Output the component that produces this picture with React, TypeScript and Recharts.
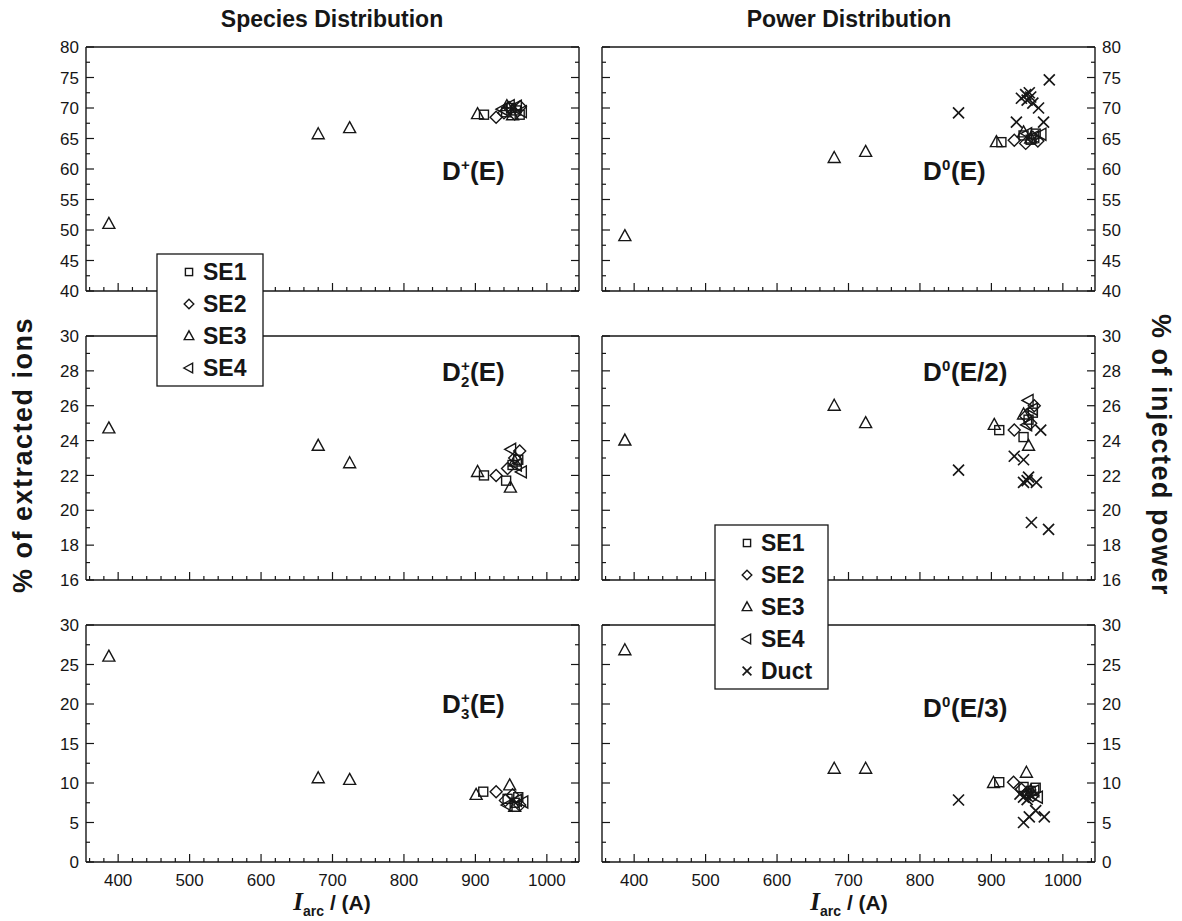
import React from "react";
import { ScatterChart, Scatter, XAxis, YAxis } from "recharts";

// ---- axis ticks ----
const arcDomain = [355, 1045];
const arcTicks = [360, 380, 400, 420, 440, 460, 480, 500, 520, 540, 560, 580, 600, 620, 640, 660, 680, 700, 720, 740, 760, 780, 800, 820, 840, 860, 880, 900, 920, 940, 960, 980, 1000, 1020, 1040];
const arcLabels = [400, 500, 600, 700, 800, 900, 1000];

const topTicks = [40, 42.5, 45, 47.5, 50, 52.5, 55, 57.5, 60, 62.5, 65, 67.5, 70, 72.5, 75, 77.5, 80];
const topLabels = [40, 45, 50, 55, 60, 65, 70, 75, 80];
const midTicks = [16, 17, 18, 19, 20, 21, 22, 23, 24, 25, 26, 27, 28, 29, 30];
const midLabels = [16, 18, 20, 22, 24, 26, 28, 30];
const lowTicks = [0, 2.5, 5, 7.5, 10, 12.5, 15, 17.5, 20, 22.5, 25, 27.5, 30];
const lowLabels = [0, 5, 10, 15, 20, 25, 30];

// ---- species distribution (% of extracted ions) ----
// D+(E)
const dPlusSE1 = [[912, 68.9], [943, 69.3], [950, 70.0], [957, 69.6], [962, 68.9]];
const dPlusSE2 = [[929, 68.5], [940, 69.2], [947, 70.1], [955, 69.0], [963, 70.2]];
const dPlusSE3 = [[387, 51.0], [680, 65.7], [724, 66.7], [903, 69.0], [944, 70.3], [952, 68.8]];
const dPlusSE4 = [[938, 69.8], [948, 70.4], [958, 70.3], [965, 69.4]];
// D2+(E)
const d2SE1 = [[912, 22.0], [943, 21.7], [952, 22.6], [960, 22.9]];
const d2SE2 = [[929, 22.0], [945, 22.4], [955, 23.0], [962, 23.4]];
const d2SE3 = [[387, 24.7], [680, 23.7], [724, 22.7], [903, 22.2], [949, 21.3], [955, 22.8]];
const d2SE4 = [[950, 23.5], [958, 22.6], [965, 22.2]];
// D3+(E)
const d3SE1 = [[911, 8.9], [945, 8.0], [955, 7.5], [960, 8.2]];
const d3SE2 = [[929, 8.9], [942, 7.8], [952, 8.5], [962, 7.2]];
const d3SE3 = [[387, 26.0], [680, 10.6], [724, 10.4], [901, 8.5], [948, 9.7], [955, 7.0]];
const d3SE4 = [[945, 7.2], [958, 7.8], [967, 7.6]];

// ---- power distribution (% of injected power) ----
// D0(E)
const pESE1 = [[914, 64.4], [945, 65.5], [955, 64.8], [962, 65.8]];
const pESE2 = [[932, 64.7], [948, 64.2], [958, 65.2], [965, 64.6]];
const pESE3 = [[387, 49.0], [680, 61.8], [724, 62.8], [907, 64.4], [945, 66.0], [955, 65.0]];
const pESE4 = [[950, 65.8], [960, 65.3], [970, 65.7]];
const pEDuct = [[854, 69.2], [981, 74.6], [942, 71.6], [953, 72.5], [950, 71.3], [958, 70.8], [966, 70.0], [935, 67.7], [973, 67.7], [948, 72.2], [955, 71.8]];
// D0(E/2)
const pE2SE1 = [[911, 24.6], [945, 24.2], [952, 25.2], [958, 25.6]];
const pE2SE2 = [[932, 24.6], [948, 25.4], [960, 26.0], [955, 25.0]];
const pE2SE3 = [[387, 24.0], [680, 26.0], [724, 25.0], [904, 24.9], [952, 23.7], [945, 25.5]];
const pE2SE4 = [[952, 26.3], [958, 25.8], [950, 24.9]];
const pE2Duct = [[854, 22.3], [932, 23.1], [945, 22.9], [952, 21.9], [945, 21.6], [963, 21.6], [950, 21.7], [969, 24.6], [956, 19.3], [980, 18.9]];
// D0(E/3)
const pE3SE1 = [[911, 10.1], [945, 9.5], [955, 9.0], [962, 9.4]];
const pE3SE2 = [[931, 10.1], [942, 9.2], [950, 8.8], [958, 8.4]];
const pE3SE3 = [[387, 26.8], [680, 11.8], [724, 11.8], [903, 10.0], [949, 11.3], [955, 9.0]];
const pE3SE4 = [[948, 8.6], [960, 9.0], [965, 8.2]];
const pE3Duct = [[854, 7.85], [945, 8.2], [950, 7.9], [955, 8.5], [940, 8.6], [953, 5.7], [974, 5.7], [945, 5.0], [962, 6.5]];

const INK = "#161616";
const SANS = "'Liberation Sans', Arial, Helvetica, sans-serif";

type Kind = "sq" | "dia" | "tri" | "left" | "x";

function Marker({ kind, cx, cy, s = 1 }: { kind: Kind; cx: number; cy: number; s?: number }) {
  const st = { fill: "none", stroke: INK, strokeWidth: 1.4 };
  if (kind === "sq") return <rect x={cx - 4.5 * s} y={cy - 4.5 * s} width={9 * s} height={9 * s} {...st} />;
  if (kind === "dia")
    return <polygon points={`${cx},${cy - 6 * s} ${cx + 6 * s},${cy} ${cx},${cy + 6 * s} ${cx - 6 * s},${cy}`} {...st} />;
  if (kind === "tri")
    return <polygon points={`${cx},${cy - 6.5 * s} ${cx + 6 * s},${cy + 4.5 * s} ${cx - 6 * s},${cy + 4.5 * s}`} {...st} />;
  if (kind === "left")
    return <polygon points={`${cx - 6.5 * s},${cy} ${cx + 4.5 * s},${cy - 6 * s} ${cx + 4.5 * s},${cy + 6 * s}`} {...st} />;
  const d = 5.5 * s;
  return (
    <g stroke={INK} strokeWidth={1.7}>
      <line x1={cx - d} y1={cy - d} x2={cx + d} y2={cy + d} />
      <line x1={cx - d} y1={cy + d} x2={cx + d} y2={cy - d} />
    </g>
  );
}

const toPts = (rows: number[][]) => rows.map(([x, y]) => ({ x, y }));

const xTick = (withLabels: boolean, dir: number) => (p: any) => {
  const v = p.payload.value;
  const major = arcLabels.includes(v);
  return (
    <g>
      <line x1={p.x} x2={p.x} y1={p.y} y2={p.y + dir * (major ? 8 : 4)} stroke={INK} strokeWidth={1.2} />
      {withLabels && major && (
        <text x={p.x} y={p.y + 24} textAnchor="middle" fontFamily={SANS} fontSize={17} fill={INK}>
          {v}
        </text>
      )}
    </g>
  );
};

const yTick = (labels: number[], withLabels: boolean, side: "left" | "right") => (p: any) => {
  const v = p.payload.value;
  const major = labels.includes(v);
  const dir = side === "left" ? 1 : -1;
  return (
    <g>
      <line x1={p.x} x2={p.x + dir * (major ? 8 : 4)} y1={p.y} y2={p.y} stroke={INK} strokeWidth={1.2} />
      {withLabels && major && (
        <text
          x={p.x - dir * 7}
          y={p.y}
          dy="0.36em"
          textAnchor={side === "left" ? "end" : "start"}
          fontFamily={SANS}
          fontSize={17}
          fill={INK}
        >
          {v}
        </text>
      )}
    </g>
  );
};

type Series = { kind: Kind; rows: number[][] };

function Panel(props: {
  left: number;
  top: number;
  w: number;
  h: number;
  yDomain: number[];
  yTicks: number[];
  yLabels: number[];
  labelSide: "left" | "right";
  showX: boolean;
  series: Series[];
}) {
  const { left, top, w, h, yDomain, yTicks, yLabels, labelSide, showX, series } = props;
  const M = 40;
  const line = { stroke: INK, strokeWidth: 1.4 };
  // every axis takes 1px, so margins are M - 1 to keep the plot box at (left, top, w, h)
  return (
    <div style={{ position: "absolute", left: left - M, top: top - M }}>
      <ScatterChart width={w + 2 * M} height={h + 2 * M} margin={{ top: M - 1, right: M - 1, bottom: M - 1, left: M - 1 }}>
        <XAxis
          xAxisId="b"
          type="number"
          dataKey="x"
          domain={arcDomain}
          ticks={arcTicks}
          interval={0}
          height={1}
          tickSize={0}
          tickMargin={0}
          tickLine={false}
          axisLine={line}
          tick={xTick(showX, -1)}
          allowDataOverflow
        />
        <XAxis
          xAxisId="t"
          orientation="top"
          type="number"
          domain={arcDomain}
          ticks={arcTicks}
          interval={0}
          height={1}
          tickSize={0}
          tickMargin={0}
          tickLine={false}
          axisLine={line}
          tick={xTick(false, 1)}
          allowDataOverflow
        />
        <YAxis
          yAxisId="l"
          type="number"
          dataKey="y"
          domain={yDomain}
          ticks={yTicks}
          interval={0}
          width={1}
          tickSize={0}
          tickMargin={0}
          tickLine={false}
          axisLine={line}
          tick={yTick(yLabels, labelSide === "left", "left")}
          allowDataOverflow
        />
        <YAxis
          yAxisId="r"
          orientation="right"
          type="number"
          domain={yDomain}
          ticks={yTicks}
          interval={0}
          width={1}
          tickSize={0}
          tickMargin={0}
          tickLine={false}
          axisLine={line}
          tick={yTick(yLabels, labelSide === "right", "right")}
          allowDataOverflow
        />
        {series.map((s, i) => (
          <Scatter
            key={i}
            xAxisId="b"
            yAxisId="l"
            data={toPts(s.rows)}
            isAnimationActive={false}
            shape={(p: any) => <Marker kind={s.kind} cx={p.cx} cy={p.cy} />}
          />
        ))}
      </ScatterChart>
    </div>
  );
}

function PanelLabel({ x, y, sup, sub, arg }: { x: number; y: number; sup: string; sub?: string; arg: string }) {
  return (
    <g fontFamily={SANS} fontWeight="bold" fill={INK}>
      <text x={x} y={y} fontSize={26}>D</text>
      <text x={x + 19} y={y - 10} fontSize={15}>{sup}</text>
      {sub && <text x={x + 19} y={y + 6} fontSize={15}>{sub}</text>}
      <text x={x + 28} y={y} fontSize={26}>{arg}</text>
    </g>
  );
}

function Legend({ x, y, w, h, rows }: { x: number; y: number; w: number; h: number; rows: { kind: Kind; name: string }[] }) {
  return (
    <g>
      <rect x={x} y={y} width={w} height={h} fill="#fff" stroke={INK} strokeWidth={1.3} />
      {rows.map((r, i) => (
        <g key={r.name}>
          <Marker kind={r.kind} cx={x + 32} cy={y + 18 + i * 32} s={0.8} />
          <text x={x + 46} y={y + 26 + i * 32} fontFamily={SANS} fontWeight="bold" fontSize={23} fill={INK}>
            {r.name}
          </text>
        </g>
      ))}
    </g>
  );
}

const seRows: { kind: Kind; name: string }[] = [
  { kind: "sq", name: "SE1" },
  { kind: "dia", name: "SE2" },
  { kind: "tri", name: "SE3" },
  { kind: "left", name: "SE4" },
];

function XTitle({ cx }: { cx: number }) {
  return (
    <text x={cx} y={910} textAnchor="middle" fill={INK} fontWeight="bold">
      <tspan fontFamily="'Liberation Serif', 'Times New Roman', serif" fontStyle="italic" fontSize={25}>I</tspan>
      <tspan fontFamily={SANS} fontSize={14} dy={6}>arc</tspan>
      <tspan fontFamily={SANS} fontSize={21} dy={-6}> / (A)</tspan>
    </text>
  );
}

export default function App() {
  const L = 86;
  const R = 602;
  const W = 493;
  const rows = [47, 336, 625];
  const H = [244, 244, 237];
  const yTitle = { fontFamily: SANS, fontWeight: "bold" as const, fontSize: 27, letterSpacing: 1.5, fill: INK };
  return (
    <div style={{ position: "absolute", left: 0, top: 0, width: 1182, height: 921, background: "#fff", overflow: "hidden" }}>
      <Panel left={L} top={rows[0]} w={W} h={H[0]} yDomain={[40, 80]} yTicks={topTicks} yLabels={topLabels} labelSide="left" showX={false}
        series={[{ kind: "sq", rows: dPlusSE1 }, { kind: "dia", rows: dPlusSE2 }, { kind: "tri", rows: dPlusSE3 }, { kind: "left", rows: dPlusSE4 }]} />
      <Panel left={L} top={rows[1]} w={W} h={H[1]} yDomain={[16, 30]} yTicks={midTicks} yLabels={midLabels} labelSide="left" showX={false}
        series={[{ kind: "sq", rows: d2SE1 }, { kind: "dia", rows: d2SE2 }, { kind: "tri", rows: d2SE3 }, { kind: "left", rows: d2SE4 }]} />
      <Panel left={L} top={rows[2]} w={W} h={H[2]} yDomain={[0, 30]} yTicks={lowTicks} yLabels={lowLabels} labelSide="left" showX={true}
        series={[{ kind: "sq", rows: d3SE1 }, { kind: "dia", rows: d3SE2 }, { kind: "tri", rows: d3SE3 }, { kind: "left", rows: d3SE4 }]} />
      <Panel left={R} top={rows[0]} w={W} h={H[0]} yDomain={[40, 80]} yTicks={topTicks} yLabels={topLabels} labelSide="right" showX={false}
        series={[{ kind: "sq", rows: pESE1 }, { kind: "dia", rows: pESE2 }, { kind: "tri", rows: pESE3 }, { kind: "left", rows: pESE4 }, { kind: "x", rows: pEDuct }]} />
      <Panel left={R} top={rows[1]} w={W} h={H[1]} yDomain={[16, 30]} yTicks={midTicks} yLabels={midLabels} labelSide="right" showX={false}
        series={[{ kind: "sq", rows: pE2SE1 }, { kind: "dia", rows: pE2SE2 }, { kind: "tri", rows: pE2SE3 }, { kind: "left", rows: pE2SE4 }, { kind: "x", rows: pE2Duct }]} />
      <Panel left={R} top={rows[2]} w={W} h={H[2]} yDomain={[0, 30]} yTicks={lowTicks} yLabels={lowLabels} labelSide="right" showX={true}
        series={[{ kind: "sq", rows: pE3SE1 }, { kind: "dia", rows: pE3SE2 }, { kind: "tri", rows: pE3SE3 }, { kind: "left", rows: pE3SE4 }, { kind: "x", rows: pE3Duct }]} />

      <svg width={1182} height={921} style={{ position: "absolute", left: 0, top: 0, pointerEvents: "none" }}>
        <text x={332} y={27} textAnchor="middle" fontFamily={SANS} fontWeight="bold" fontSize={23} fill={INK}>Species Distribution</text>
        <text x={849} y={27} textAnchor="middle" fontFamily={SANS} fontWeight="bold" fontSize={23} fill={INK}>Power Distribution</text>
        <text transform="translate(32,455) rotate(-90)" textAnchor="middle" {...yTitle}>% of extracted ions</text>
        <text transform="translate(1152,455) rotate(90)" textAnchor="middle" {...yTitle}>% of injected power</text>
        <XTitle cx={332} />
        <XTitle cx={849} />

        <PanelLabel x={442} y={180} sup="+" arg="(E)" />
        <PanelLabel x={442} y={381} sup="+" sub="2" arg="(E)" />
        <PanelLabel x={442} y={713} sup="+" sub="3" arg="(E)" />
        <PanelLabel x={923} y={180} sup="0" arg="(E)" />
        <PanelLabel x={923} y={381} sup="0" arg="(E/2)" />
        <PanelLabel x={923} y={717} sup="0" arg="(E/3)" />

        <Legend x={157} y={254} w={106} h={132} rows={seRows} />
        <Legend x={715} y={525} w={113} h={164} rows={[...seRows, { kind: "x", name: "Duct" }]} />
      </svg>
    </div>
  );
}
